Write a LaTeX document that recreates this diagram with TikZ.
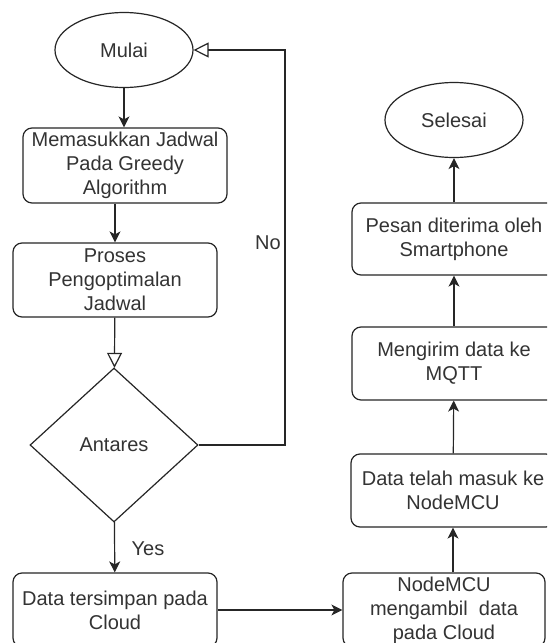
\documentclass[tikz,border=0pt]{standalone}
\usepackage{fontspec}
\setmainfont{Liberation Sans}
\usepackage{tikz}
\usetikzlibrary{arrows.meta, calc, positioning, shapes.geometric}
\def\boxW{204}
\def\boxH{74}

\tikzset{
  proc/.style={draw, rounded corners=9pt, minimum width=\boxW pt, minimum height=\boxH pt, align=center, inner sep=1pt},
  term/.style={draw, ellipse, minimum width=138pt, minimum height=75pt, inner sep=0pt},
  decide/.style={draw, diamond, minimum width=168pt, minimum height=154pt, inner sep=0pt},
  flow/.style={-{Stealth[length=11pt,width=11pt,inset=3pt]}},
  flowopen/.style={-{Triangle[open,length=15pt,width=15pt]}},
}

\begin{document}
\begin{tikzpicture}[x=1pt, y=-1pt, line width=1.2pt, draw=black!85, text=black!80,
    font=\fontsize{20}{24}\selectfont]
            % Frame of the picture
            \useasboundingbox (0,0) rectangle (547,643);
            \fill[white] (0,0) rectangle (547,643);
            \clip (0,0) rectangle (547,643);

            % Left column
            \node[term] (mulai) at (124,50) {Mulai};
            \node[proc, minimum height=75pt] (masuk) at (125,165.5) {Memasukkan Jadwal\\Pada Greedy\\Algorithm};
            \node[proc] (proses) at (115,280) {Proses\\Pengoptimalan\\Jadwal};
            \node[decide] (antares) at (114,445) {Antares};
            \node[proc] (simpan) at (115,610) {Data tersimpan pada\\Cloud};

            % Right column
            \node[proc, minimum width=202pt] (ambil) at (444,610) {NodeMCU\\mengambil\ \ data\\pada Cloud};
            \node[proc, minimum height=73pt] (masukmcu) at (453,490.5) {Data telah masuk ke\\NodeMCU};
            \node[proc, minimum height=73pt] (mqtt) at (454,363.5) {Mengirim data ke\\MQTT};
            \node[proc, minimum height=72pt] (pesan) at (454,239) {Pesan diterima oleh\\Smartphone};
            \node[term] (selesai) at (454,120) {Selesai};

            % Labels
            \node (nolabel) at (268,243) {No};
            \node (yeslabel) at (148,549) {Yes};

            % Connectors
            \draw[flow] (mulai.south) -- (mulai.south |- masuk.north);
            \draw[flow] (masuk.south -| proses.north) -- (proses.north);
            \draw[flowopen] (proses) -- (antares);
            \coordinate (noturn) at (285,50);
            \draw[flowopen] (antares.east) -| (noturn) -- (mulai.east);
            \draw[flow] (antares) -- (simpan);
            \draw[flow] (simpan) -- (ambil);
            \draw[flow] (ambil.north -| masukmcu.south) -- (masukmcu.south);
            \foreach \a/\b in {masukmcu/mqtt, mqtt/pesan, pesan/selesai} {
                \draw[flow] (\a) -- (\b);
            }

        \end{tikzpicture}
\end{document}
